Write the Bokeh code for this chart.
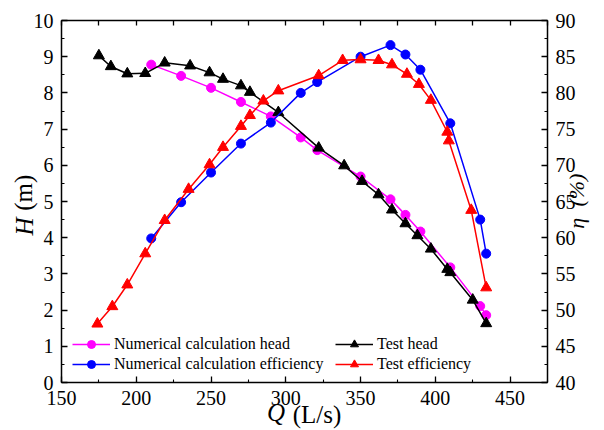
import json
import math
from bokeh.plotting import figure
from bokeh.models import (Range1d, LinearAxis, SingleIntervalTicker, FixedTicker, Legend,
                          LegendItem, CustomJSTickFormatter)
from bokeh.embed import file_html
from bokeh.resources import INLINE

# ---------------- data ----------------
num_q = [210, 230, 250, 270, 290, 310, 321, 350, 370, 380, 390, 410, 430, 434]
num_head = [8.78, 8.47, 8.14, 7.75, 7.35, 6.77, 6.42, 5.69, 5.06, 4.63, 4.17, 3.18, 2.11, 1.86]
num_eff = [59.9, 64.9, 69.0, 73.0, 75.9, 80.0, 81.5, 85.0, 86.6, 85.3, 83.2, 75.8, 62.5, 57.8]

test_head_q = [175, 183, 194, 206, 219, 236, 249, 258, 270, 276, 295, 322, 339,
               351, 362, 371, 380, 388, 397, 408, 410, 425, 434]
test_head = [9.03, 8.73, 8.53, 8.54, 8.83, 8.75, 8.56, 8.38, 8.20, 8.02, 7.46, 6.48, 5.99,
             5.56, 5.19, 4.77, 4.39, 4.06, 3.69, 3.13, 3.04, 2.28, 1.63]

test_eff_q = [174, 184, 194, 206, 219, 235, 249, 258, 270, 276, 285, 295, 322, 338,
              350, 362, 371, 381, 389, 397, 408, 409, 424, 434]
test_eff = [48.1, 50.5, 53.5, 57.8, 62.4, 66.7, 70.1, 72.5, 75.4, 76.9, 78.9, 80.3, 82.4, 84.5,
            84.6, 84.5, 83.9, 82.6, 81.2, 79.0, 74.6, 73.4, 63.8, 53.1]

legend_labels = ["Numerical calculation head", "Numerical calculation efficiency",
                 "Test head", "Test efficiency"]

FONT = "Liberation Serif"
TSIZE = "25px"
E = 28  # approx. extent of a 25px text line

p = figure(width=604, height=430, output_backend="svg", toolbar_location=None,
           x_range=Range1d(150, 475), y_range=Range1d(0, 10),
           min_border_left=61, min_border_right=54, min_border_top=20,
           min_border_bottom=48)
p.extra_y_ranges = {"eta": Range1d(40, 90)}
p.grid.visible = False
p.outline_line_color = None
p.background_fill_color = "white"


def style(ax, labels=True):
    ax.axis_line_width = 1.5
    ax.axis_line_color = "black"
    ax.major_tick_in = 6
    ax.major_tick_out = 0
    ax.minor_tick_in = 3
    ax.minor_tick_out = 0
    ax.major_tick_line_width = 1.3
    ax.minor_tick_line_width = 1.1
    ax.major_tick_line_color = "black"
    ax.minor_tick_line_color = "black"
    ax.major_label_text_font = FONT
    ax.major_label_text_font_size = "20px"
    ax.major_label_text_color = "black"
    ax.major_label_standoff = 8 if labels else 0
    ax.axis_label = None


xa = p.xaxis[0]
xa.ticker = SingleIntervalTicker(interval=50, num_minor_ticks=2)
style(xa)
ya = p.yaxis[0]
ya.ticker = SingleIntervalTicker(interval=1, num_minor_ticks=2)
style(ya)

top = LinearAxis(ticker=SingleIntervalTicker(interval=25, num_minor_ticks=0),
                 formatter=CustomJSTickFormatter(code="return ''"))
style(top, labels=False)
top.major_tick_in = 5
p.add_layout(top, "above")

right = LinearAxis(y_range_name="eta",
                   ticker=SingleIntervalTicker(interval=5, num_minor_ticks=2))
style(right)
p.add_layout(right, "right")

# ---------------- series ----------------
l1 = p.line(num_q, num_head, color="#FF00FF", line_width=1.5)
s1 = p.scatter(num_q, num_head, marker="circle", size=9, color="#FF00FF")
l3 = p.line(test_head_q, test_head, color="black", line_width=1.5)
s3 = p.scatter(test_head_q, test_head, marker="triangle", size=11, color="black")
l2 = p.line(num_q, num_eff, color="#0000FF", line_width=1.5, y_range_name="eta")
s2 = p.scatter(num_q, num_eff, marker="circle", size=9, color="#0000FF", y_range_name="eta")
l4 = p.line(test_eff_q, test_eff, color="#FF0000", line_width=1.5, y_range_name="eta")
s4 = p.scatter(test_eff_q, test_eff, marker="triangle", size=11, color="#FF0000",
               y_range_name="eta")


def make_legend(items, loc):
    lg = Legend(items=items, location=loc)
    lg.border_line_color = None
    lg.background_fill_alpha = 0
    lg.padding = 0
    lg.margin = 0
    lg.spacing = 0
    lg.glyph_width = 38
    lg.glyph_height = 20
    lg.label_height = 20
    lg.label_standoff = 4
    lg.label_text_font = FONT
    lg.label_text_font_size = "16px"
    lg.label_text_color = "black"
    return lg


leg1 = make_legend([LegendItem(label=legend_labels[0], renderers=[l1, s1]),
                    LegendItem(label=legend_labels[1], renderers=[l2, s2])], (11, 8))
leg2 = make_legend([LegendItem(label=legend_labels[2], renderers=[l3, s3]),
                    LegendItem(label=legend_labels[3], renderers=[l4, s4])], (274, 8))
p.add_layout(leg1)
p.add_layout(leg2)


# ---------------- axis titles (mixed italic / upright) ----------------
def title_axis(side, ticks, code, italic, orient, standoff, unit_label=None,
               unit_standoff=0, size=TSIZE):
    ax = LinearAxis(ticker=FixedTicker(ticks=ticks, minor_ticks=[]),
                    formatter=CustomJSTickFormatter(code=code))
    ax.axis_line_color = None
    ax.major_tick_line_color = None
    ax.minor_tick_line_color = None
    ax.major_tick_in = 0
    ax.major_tick_out = 0
    ax.minor_tick_in = 0
    ax.minor_tick_out = 0
    ax.major_label_standoff = standoff
    ax.major_label_text_font = FONT
    ax.major_label_text_font_size = size
    ax.major_label_text_color = "black"
    ax.major_label_text_font_style = "italic" if italic else "normal"
    if orient is not None:
        ax.major_label_orientation = orient
    if unit_label is not None:
        ax.axis_label = unit_label
        ax.axis_label_standoff = unit_standoff
        ax.axis_label_text_font = FONT
        ax.axis_label_text_font_size = size
        ax.axis_label_text_font_style = "normal"
        ax.axis_label_text_color = "black"
    p.add_layout(ax, side)
    return ax


# left: italic H as tick label, "(m)" as axis label in the same column
title_axis("left", [4.31], "return 'H'", True, "vertical", -8, "\u2002\u2009(m)", -E)
# right: eta and (%) reading bottom-to-top, kept inside the window
title_axis("right", [4.25, 4.86],
           "return tick < 4.5 ? " + json.dumps("\u03b7") + " : '(%)'",
           True, math.pi / 2, -2, size="22px")
# bottom: italic Q as tick label, "(L/s)" as axis label in the same row
title_axis("below", [293.4], "return 'Q'", True, None, -9, "\u2003(L/s)", -E)

open("out.html", "w").write(file_html(p, INLINE))
